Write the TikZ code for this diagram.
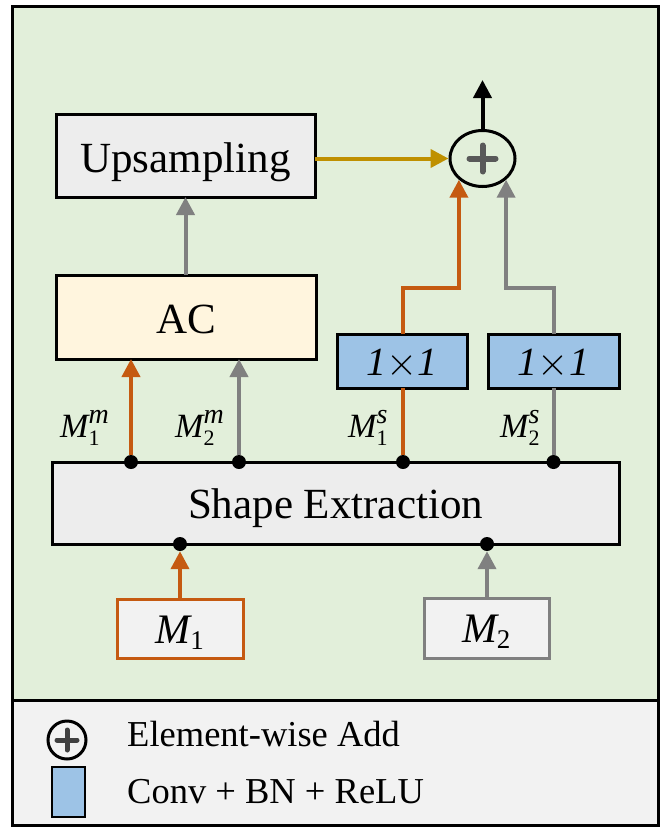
\documentclass[tikz,border=0pt]{standalone}
\usepackage{fix-cm}
\usepackage{fontspec}
\setmainfont{Liberation Serif}
\usetikzlibrary{arrows.meta,shapes.geometric}
\definecolor{bggreen}{HTML}{E2EFDA}
\definecolor{leggray}{HTML}{F2F2F2}
\definecolor{boxgray}{HTML}{EDEDED}
\definecolor{acfill}{HTML}{FFF5DE}
\definecolor{convblue}{HTML}{9DC3E6}
\definecolor{orangeline}{HTML}{C55A11}
\definecolor{grayline}{HTML}{808080}
\definecolor{goldline}{HTML}{BF9000}
\definecolor{plusgray}{HTML}{595959}
\definecolor{legplus}{HTML}{404040}
\newcommand{\myfs}[1]{\fontsize{#1}{#1}\selectfont}
% label M with sub #1 and sup #2
\newcommand{\Mlab}[2]{$\mbox{\itshape M}^{\mbox{\myfs{28}\itshape #2}}_{\mbox{\myfs{22}#1}}$}
\newcommand{\Mbox}[1]{$\mbox{\itshape M}_{\mbox{\myfs{27}#1}}$}
\begin{document}
\begin{tikzpicture}[x=1pt,y=-1pt,
  box/.style={draw=black,line width=3pt,inner sep=0pt,outer sep=0pt,align=center,text depth=0pt},
  dot/.style={circle,fill=black,inner sep=0pt,minimum size=14pt},
  conn/.style={line width=4pt},
  tip/.style={-{Triangle[length=18pt,width=18pt]}},
  lbl/.style={anchor=base west,inner sep=0pt,font={\myfs{34}}}
]
\useasboundingbox (0,0) rectangle (661,830);
% frame
\fill[bggreen] (12,6) rectangle (658,700);
\fill[leggray] (12,700) rectangle (658,825);
\draw[line width=3pt] (12,6) rectangle (658,825);
\draw[line width=3pt] (12,700) -- (658,700);

% boxes
\node[box,fill=boxgray,minimum width=259pt,minimum height=83pt,text height=33pt,font={\myfs{43}}] (up) at (185.5,155.5) {Upsampling};
\node[box,fill=acfill,minimum width=260pt,minimum height=84pt,text height=32pt,font={\myfs{43}}] (ac) at (186,317) {AC};
\node[box,fill=convblue,minimum width=130pt,minimum height=54pt,text height=28pt,font={\myfs{40}}] (c1) at (402,361) {\textit{1}$\times$\textit{1}};
\node[box,fill=convblue,minimum width=131pt,minimum height=54pt,text height=28pt,font={\myfs{40}}] (c2) at (553.5,361) {\textit{1}$\times$\textit{1}};
\node[box,fill=boxgray,minimum width=567pt,minimum height=82pt,text height=30pt,font={\myfs{43}}] (se) at (335.5,503) {Shape Extraction};
\node[box,draw=orangeline,fill=leggray,minimum width=126pt,minimum height=59pt,text height=29pt,font={\myfs{42}}] (m1) at (180,628.5) {\Mbox{1}};
\node[box,draw=grayline,fill=leggray,minimum width=125pt,minimum height=60pt,text height=29pt,font={\myfs{42}}] (m2) at (486.5,628) {\Mbox{2}};

% add
\node[ellipse,draw=black,line width=3pt,minimum width=65pt,minimum height=56pt,inner sep=0pt] (add) at (482.5,158.5) {};
\draw[plusgray,line width=6pt,line cap=round] (add.center) ++(-13,0) -- ++(26,0);
\draw[plusgray,line width=6pt,line cap=round] (add.center) ++(0,-13) -- ++(0,26);

% dots
\node[dot] (d1) at (131,462) {};
\node[dot] (d2) at (239,462) {};
\node[dot] (d3) at (403,462) {};
\node[dot] (d4) at (553.5,462) {};
\node[dot] (d5) at (180,544) {};
\node[dot] (d6) at (487,544) {};

% connectors
\draw[conn,orangeline,tip] (m1) -- (d5);
\draw[conn,grayline,tip] (m2.north -| d6) -- (d6);
\draw[conn,orangeline,tip] (d1) -- (d1 |- ac.south);
\draw[conn,grayline,tip] (d2) -- (d2 |- ac.south);
\draw[conn,orangeline] (d3) -- (d3 |- c1.south);
\draw[conn,grayline] (d4) -- (d4 |- c2.south);
\draw[conn,grayline,tip] (ac.north -| up) -- (up.south);
\draw[conn,goldline,tip] (up.east |- add) -- (add.west);
\coordinate (bendy) at (0,288);
\draw[conn,orangeline,tip] (d3 |- c1.north) -- (d3 |- bendy) -- (add.222 |- bendy) -- (add.222);
\draw[conn,grayline,tip] (d4 |- c2.north) -- (d4 |- bendy) -- (add.318 |- bendy) -- (add.318);
\coordinate (outtip) at (482.5,80);
\draw[conn,black,tip] (add.north) -- (outtip);

% labels
\node[lbl] (l1) at (60,437) {\Mlab{1}{m}};
\node[lbl] (l2) at (175,437) {\Mlab{2}{m}};
\node[lbl] (l3) at (348,437) {\Mlab{1}{s}};
\node[lbl] (l4) at (500,437) {\Mlab{2}{s}};

% legend
\node[circle,draw=black,line width=3pt,minimum size=38pt,inner sep=0pt] (legadd) at (67,740) {};
\draw[legplus,line width=5pt,line cap=round] (legadd.center) ++(-10,0) -- ++(20,0);
\draw[legplus,line width=5pt,line cap=round] (legadd.center) ++(0,-10) -- ++(0,20);
\node[draw=black,line width=2.5pt,fill=convblue,minimum width=33pt,minimum height=50pt,inner sep=0pt] (legconv) at (68.5,792) {};
\node[anchor=base west,inner sep=0pt,font={\myfs{36.5}}] (t1) at (127,746) {Element-wise Add};
\node[anchor=base west,inner sep=0pt,font={\myfs{36.5}}] (t2) at (127,803) {Conv + BN + ReLU};
\end{tikzpicture}
\end{document}
